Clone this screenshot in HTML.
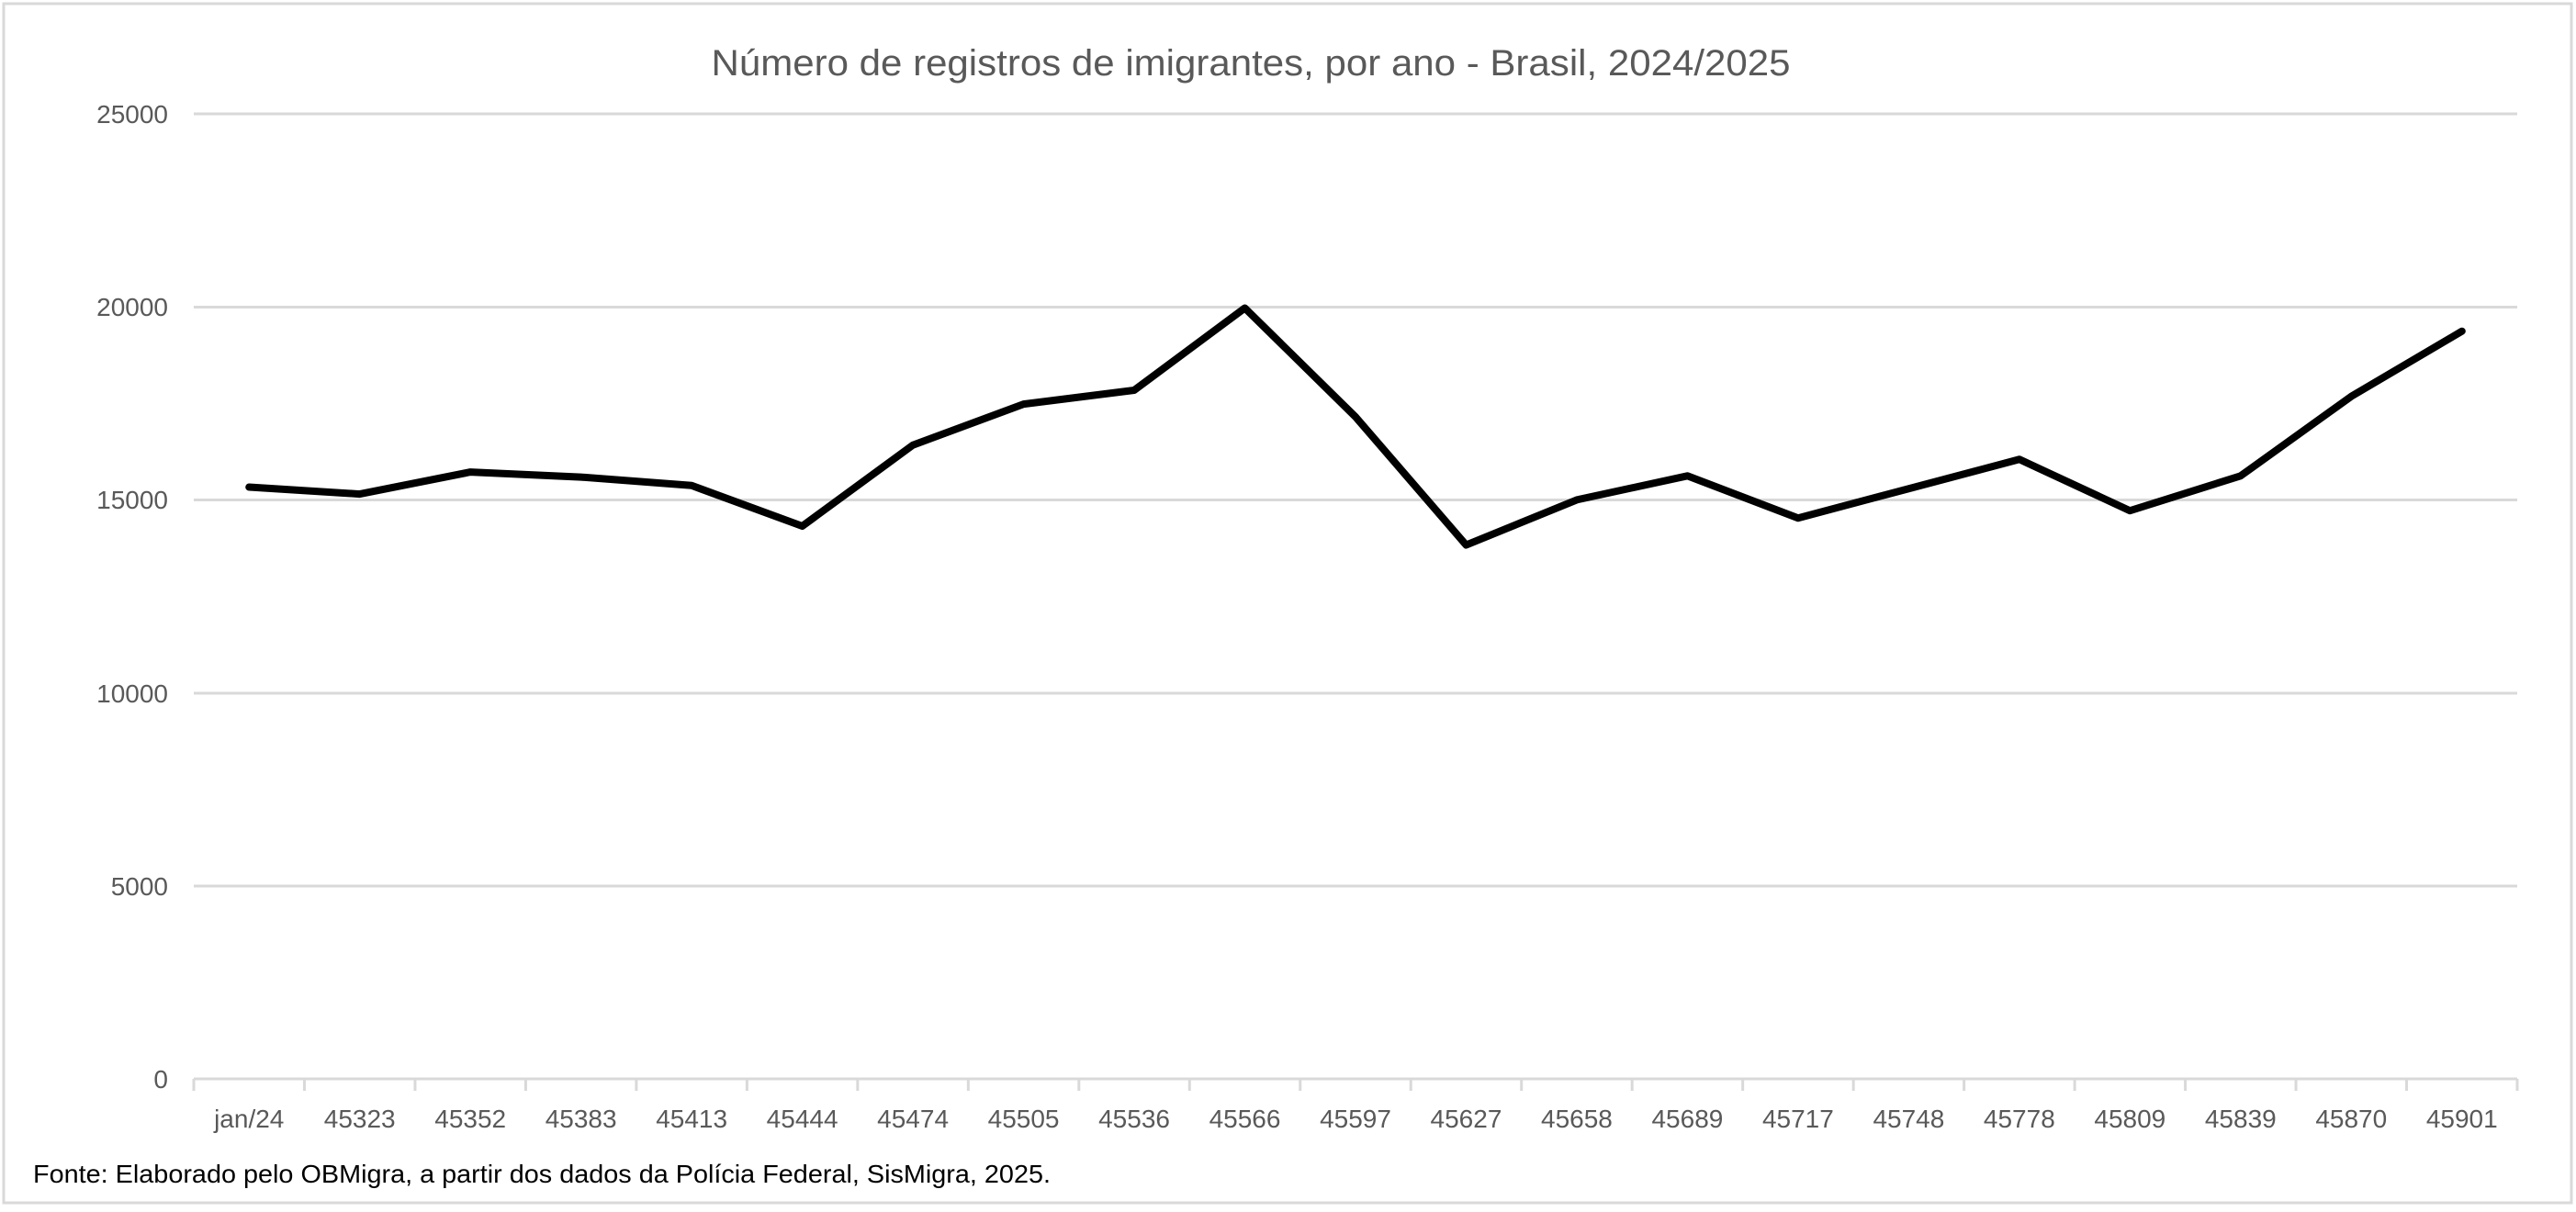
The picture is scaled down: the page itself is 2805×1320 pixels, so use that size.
<!DOCTYPE html>
<html><head><meta charset="utf-8"><style>
html,body{margin:0;padding:0;background:#fff;}
svg{display:block;}
text{font-family:"Liberation Sans",sans-serif;}
</style></head><body>
<svg width="2805" height="1320" viewBox="0 0 2805 1320" xmlns="http://www.w3.org/2000/svg">
<rect x="4" y="4" width="2796" height="1306" fill="#fff" stroke="#d9d9d9" stroke-width="3"/>
<text x="1362" y="82" text-anchor="middle" font-size="40" fill="#595959" textLength="1175" lengthAdjust="spacingAndGlyphs">Número de registros de imigrantes, por ano - Brasil, 2024/2025</text>
<g stroke="#d9d9d9" stroke-width="3">
<line x1="211" y1="124" x2="2741" y2="124"/>
<line x1="211" y1="334.5" x2="2741" y2="334.5"/>
<line x1="211" y1="544.5" x2="2741" y2="544.5"/>
<line x1="211" y1="755" x2="2741" y2="755"/>
<line x1="211" y1="965" x2="2741" y2="965"/>
<line x1="211" y1="1175" x2="2741" y2="1175"/>
</g>
<g stroke="#d9d9d9" stroke-width="3" id="ticks"></g>
<g font-size="28" fill="#595959" text-anchor="end">
<text x="183" y="134">25000</text>
<text x="183" y="344">20000</text>
<text x="183" y="554">15000</text>
<text x="183" y="765">10000</text>
<text x="183" y="975">5000</text>
<text x="183" y="1185">0</text>
</g>
<g id="xl" font-size="28" fill="#595959" text-anchor="middle"></g>
<polyline id="ln" fill="none" stroke="#000" stroke-width="8" stroke-linejoin="round" stroke-linecap="round"/>
<text x="36" y="1288" font-size="28" fill="#000" textLength="1108" lengthAdjust="spacingAndGlyphs">Fonte: Elaborado pelo OBMigra, a partir dos dados da Polícia Federal, SisMigra, 2025.</text>
<script>
var labels=["jan/24","45323","45352","45383","45413","45444","45474","45505","45536","45566","45597","45627","45658","45689","45717","45748","45778","45809","45839","45870","45901"];
var vals=[15330,15150,15720,15590,15370,14320,16420,17480,17840,19970,17150,13830,15000,15620,14530,15290,16050,14720,15620,17680,19370];
var L=211,R=2741,w=(R-L)/21,ns="http://www.w3.org/2000/svg";
var t=document.getElementById("ticks"),xl=document.getElementById("xl"),pts=[];
for(var i=0;i<=21;i++){var l=document.createElementNS(ns,"line");var x=L+i*w;l.setAttribute("x1",x);l.setAttribute("x2",x);l.setAttribute("y1",1175);l.setAttribute("y2",1188);t.appendChild(l);}
for(var i=0;i<21;i++){var cx=L+w*(i+0.5);var tx=document.createElementNS(ns,"text");tx.setAttribute("x",cx);tx.setAttribute("y",1228);tx.textContent=labels[i];xl.appendChild(tx);pts.push(cx.toFixed(1)+","+(1175-vals[i]/25000*1051).toFixed(1));}
document.getElementById("ln").setAttribute("points",pts.join(" "));
</script>
</svg>
</body></html>
